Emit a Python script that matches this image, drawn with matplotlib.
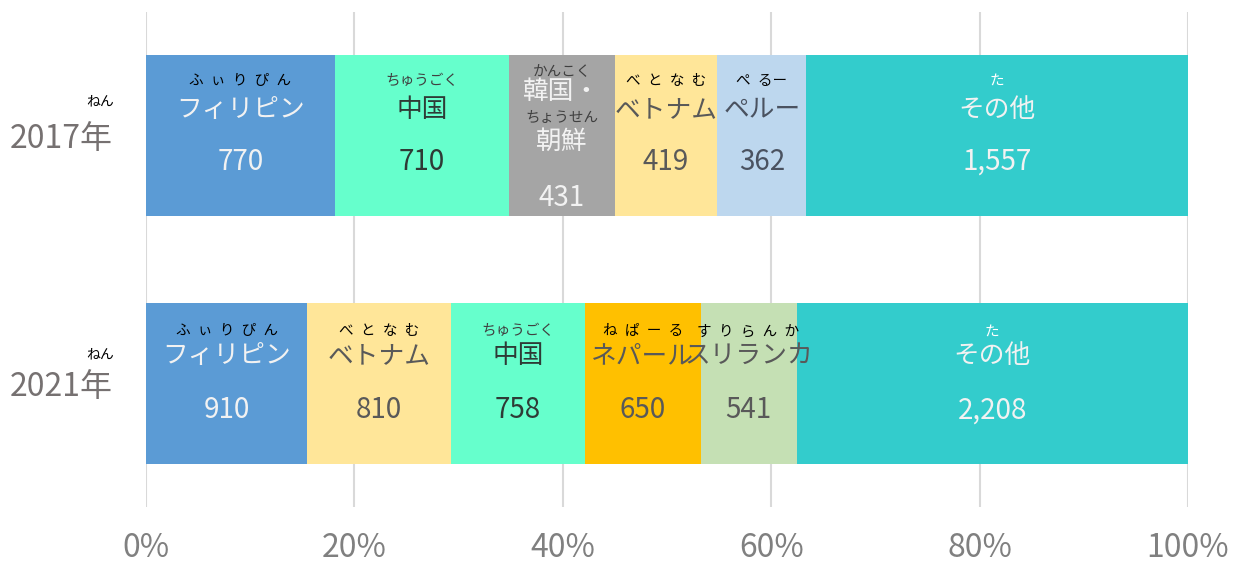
import matplotlib
matplotlib.use("Agg")
import matplotlib.pyplot as plt
import numpy as np

plt.rcParams['font.family'] = ['Noto Sans CJK JP', 'DejaVu Sans']

# ---- data ----
years = ['2017年', '2021年']
year_furi = 'ねん'

S = '\u2002'  # spacing between furigana characters
labels_2017 = ['フィリピン', '中国', '韓国・朝鮮', 'ベトナム', 'ペルー', 'その他']
furi_2017 = [S.join('ふぃりぴん'), 'ちゅうごく', 'かんこく/ちょうせん', S.join('べとなむ'), 'ぺ' + S + 'るー', 'た']
values_2017 = [770, 710, 431, 419, 362, 1557]
colors_2017 = ['#5B9BD5', '#66FFCC', '#A5A5A5', '#FFE699', '#BDD7EE', '#33CCCC']
txtcol_2017 = ['#F2F2F2', '#2E3B36', '#F2F2F2', '#595959', '#4A5260', '#F2F2F2']
furicol_2017 = ['#000000', '#404040', '#404040', '#000000', '#000000', '#FFFFFF']

labels_2021 = ['フィリピン', 'ベトナム', '中国', 'ネパール', 'スリランカ', 'その他']
furi_2021 = [S.join('ふぃりぴん'), S.join('べとなむ'), 'ちゅうごく', S.join('ねぱーる'), S.join('すりらんか'), 'た']
values_2021 = [910, 810, 758, 650, 541, 2208]
colors_2021 = ['#5B9BD5', '#FFE699', '#66FFCC', '#FFC000', '#C5E0B4', '#33CCCC']
txtcol_2021 = ['#F2F2F2', '#595959', '#2E3B36', '#595959', '#595959', '#F2F2F2']
furicol_2021 = ['#000000', '#000000', '#404040', '#000000', '#000000', '#FFFFFF']

xticks = [0, 20, 40, 60, 80, 100]
xticklabels = ['0%', '20%', '40%', '60%', '80%', '100%']

rows = [
    (labels_2017, furi_2017, values_2017, colors_2017, txtcol_2017, furicol_2017),
    (labels_2021, furi_2021, values_2021, colors_2021, txtcol_2021, furicol_2021),
]

fig = plt.figure(figsize=(12.42, 5.62), dpi=100)
ax = fig.add_axes([146/1242, 1-507/562, (1188-146)/1242, (507-12)/562])

PX = 0.72  # points per pixel at 100 dpi

def put(x, y, s, dy_px, size, color):
    ax.annotate(s, xy=(x, y), xytext=(0, -dy_px*PX), textcoords='offset points',
                ha='center', va='center', fontsize=size, color=color, zorder=5)

bar_h = 0.65
for i, (labs, furis, vals, cols, tcols, fcols) in enumerate(rows):
    total = sum(vals)
    pct = [v / total * 100 for v in vals]
    left = 0
    off = (-55, -26, 26) if i == 0 else (-52, -27, 27)
    for lab, fu, v, p, c, tc, fc in zip(labs, furis, vals, pct, cols, tcols, fcols):
        ax.barh(i, p, left=left, height=bar_h, color=c, edgecolor='none', zorder=3)
        cx = left + p / 2
        if '・' in lab:
            a, b = lab.split('・')
            fa, fb = fu.split('/')
            put(cx, i, fa, -64, 10.5, fc)
            put(cx, i, a + '・', -44, 18.5, tc)
            put(cx, i, fb, -18, 10.5, fc)
            put(cx, i, b, 6, 18.5, tc)
            put(cx, i, f'{v:,}', 62, 20, tc)
        else:
            put(cx, i, fu, off[0], 10.5, fc)
            put(cx, i, lab, off[1], 18.5, tc)
            put(cx, i, f'{v:,}', off[2], 20, tc)
        left += p

ax.set_xlim(0, 100)
ax.set_ylim(1.5, -0.5)
ax.set_xticks(xticks)
ax.set_xticklabels(xticklabels, fontsize=23, color='#808080')
ax.tick_params(axis='x', length=0, pad=18)
ax.set_yticks([0, 1])
ax.set_yticklabels(years, fontsize=23, color='#767171')
ax.tick_params(axis='y', length=0, pad=24)
ax.grid(axis='x', color='#D9D9D9', linewidth=1.5, zorder=0)
ax.set_axisbelow(True)
for s in ax.spines.values():
    s.set_visible(False)

# furigana over year labels
for yv, dy in zip([0, 1], [-34, -29]):
    ax.annotate(year_furi, xy=(0, yv), xycoords=('axes fraction', 'data'),
                xytext=(-46*PX, -dy*PX), textcoords='offset points',
                ha='center', va='center', fontsize=10, color='#000000')

fig.savefig('out.png', dpi=100)
